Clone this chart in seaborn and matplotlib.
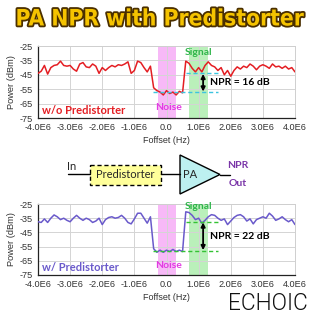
import numpy as np
import pandas as pd
import matplotlib
matplotlib.use("Agg")
import matplotlib.pyplot as plt
import seaborn as sns
from matplotlib import patheffects as pe
from matplotlib.patches import Rectangle, Polygon

# ---------------- data ----------------
freq_hz = np.round(np.arange(-40, 41) / 10, 1) * 1e6   # frequency grid, 0.1 MHz steps

power_without_pd = [
    -44, -42.5, -38.5, -44.5, -40, -38.5, -38, -35.5, -38.5, -39,
    -38.5, -41, -42.5, -37.5, -36.5, -39.5, -40, -37.5, -39, -44,
    -40, -42, -40, -38.5, -39.5, -38, -38.5, -37.5, -36, -44,
    -42, -35.5, -36.5, -40, -43, -39, -54, -56, -57, -59,
    -56, -58, -57, -59, -56.5, -57.5, -35.5, -37, -40.5, -43,
    -40, -43, -38.5, -36, -38.5, -39.5, -42, -40, -45, -42,
    -46, -42, -39.5, -41, -39, -40, -37.5, -39, -41.5, -39,
    -38, -39, -40.5, -37.5, -39.5, -39, -40.5, -39, -41, -40,
    -43,
]
power_with_pd = [
    -37.5, -38, -35.5, -38, -35, -32.7, -34, -36, -35, -36.5,
    -37.5, -35, -33, -35, -36.5, -35, -36, -38, -37, -35,
    -39.5, -36, -34.5, -34, -35, -34.5, -33, -35, -38, -39,
    -35.5, -31.5, -31.5, -35, -38.5, -34, -56.5, -59, -57.5, -59,
    -57.5, -58.5, -57, -58.5, -57.5, -58.5, -30.5, -31, -33, -36,
    -35, -38.5, -36.5, -34, -32.5, -33, -35, -36.5, -35.5, -39.5,
    -37, -34.5, -33, -32.5, -34, -37, -35.5, -39, -36, -35,
    -34, -35, -31.5, -33.5, -36.5, -35.5, -34, -36, -37.5, -36,
    -39.5,
]

x_ticks = [-4e6, -3e6, -2e6, -1e6, 0, 1e6, 2e6, 3e6, 4e6]
x_tick_labels = ["-4.0E6", "-3.0E6", "-2.0E6", "-1.0E6", "0.0",
                 "1.0E6", "2.0E6", "3.0E6", "4.0E6"]
y_ticks = [-75, -65, -55, -45, -35, -25]

npr_levels_top = (-44.0, -57.0)      # signal level, noise level (w/o PD)
npr_levels_bottom = (-37.6, -57.9)   # signal level, noise level (w/ PD)
npr_texts = ["NPR = 16 dB", "NPR = 22 dB"]
panel_labels = ["w/o Predistorter", "w/ Predistorter"]

# ---------------- figure ----------------
sns.set_style("white")
plt.rcParams["font.family"] = ["Liberation Sans", "DejaVu Sans"]

fig = plt.figure(figsize=(3.2, 3.2), dpi=100)
fig.patch.set_facecolor("white")

overlay = fig.add_axes([0, 0, 1, 1], zorder=0)
overlay.set_xlim(0, 320)
overlay.set_ylim(320, 0)
overlay.axis("off")

ax_top = fig.add_axes([38/320, 1-118/320, 257/320, 72/320], zorder=2)
ax_bot = fig.add_axes([38/320, 1-275/320, 257/320, 71/320], zorder=2)

GREEN_TXT = "#2fb54a"
MAGENTA = "#e23be2"
TEXTFONT = ["Lato", "DejaVu Sans"]


def panel(ax, power, color, dash_color, levels, npr_text, label_text,
          signal_y, noise_y):
    ax.axvspan(-0.25e6, 0.3e6, color="#f7b9f7", zorder=0, lw=0)
    ax.axvspan(0.7e6, 1.28e6, color="#baf0ba", zorder=0, lw=0)
    df = pd.DataFrame({"freq": freq_hz, "power": power})
    sns.lineplot(data=df, x="freq", y="power", ax=ax, color=color, lw=1.1,
                 zorder=3)
    up, lo = levels
    ax.hlines(up, 0.6e6, 1.6e6, colors=dash_color, linestyles=(0, (3, 2)),
              lw=1.0, zorder=4)
    ax.hlines(lo, -0.42e6, 1.6e6, colors=dash_color, linestyles=(0, (3, 2)),
              lw=1.0, zorder=4)
    ax.annotate("", xy=(1.14e6, up - 0.4), xytext=(1.14e6, lo + 0.4),
                arrowprops=dict(arrowstyle="<|-|>", color="black", lw=1.3,
                                mutation_scale=6, shrinkA=0, shrinkB=0),
                zorder=5)
    ax.text(1.35e6, (up + lo) / 2, npr_text, fontsize=7.5, fontweight="bold",
            family=TEXTFONT, va="center", ha="left", color="black", zorder=6)
    ax.text(1.0e6, signal_y, "Signal", fontsize=7.5, fontweight="bold",
            family=TEXTFONT, color=GREEN_TXT, ha="center", va="center",
            zorder=6)
    ax.text(0.05e6, noise_y, "Noise", fontsize=7.5, fontweight="bold",
            family=TEXTFONT, color=MAGENTA, ha="center", va="center", zorder=6)
    ax.text(-3.88e6, -69.5, label_text, fontsize=8, fontweight="bold",
            family=TEXTFONT, color=color, ha="left", va="center", zorder=6)

    ax.set_xlim(-4e6, 4e6)
    ax.set_ylim(-75, -25)
    ax.set_xticks(x_ticks)
    ax.set_xticklabels(x_tick_labels)
    ax.set_xticks([t * 1e5 for t in range(-40, 41, 2)], minor=True)
    ax.set_yticks(y_ticks)
    ax.set_yticklabels([str(v) for v in y_ticks])
    ax.grid(True, which="major", color="#d4d4d4", lw=0.7)
    ax.tick_params(axis="x", which="major", direction="inout", length=4,
                   width=0.8, labelsize=6.6, pad=1.5, colors="#222222",
                   labelcolor="#333333")
    ax.tick_params(axis="x", which="minor", direction="in", length=2.5,
                   width=0.7, colors="#222222")
    ax.tick_params(axis="y", which="major", direction="out", length=3,
                   width=0.8, labelsize=6.6, pad=1, colors="#222222",
                   labelcolor="#333333")
    ax.set_xlabel("Foffset (Hz)", fontsize=6.5, color="#333333", labelpad=3)
    ax.set_ylabel("Power (dBm)", fontsize=6.7, color="#333333", labelpad=2)
    for s in ["left", "bottom"]:
        ax.spines[s].set_color("#222222")
        ax.spines[s].set_linewidth(0.9)
    for s in ["top", "right"]:
        ax.spines[s].set_color("#cfcfcf")
        ax.spines[s].set_linewidth(0.7)
    ax.set_facecolor("white")


panel(ax_top, power_without_pd, "#e41e23", "#3cc4e0", npr_levels_top,
      npr_texts[0], panel_labels[0], -29.6, -67.8)
panel(ax_bot, power_with_pd, "#6a5acb", "#34c234", npr_levels_bottom,
      npr_texts[1], panel_labels[1], -27.0, -68.0)


def fit_width(txt, target_px):
    renderer = fig.canvas.get_renderer()
    w = txt.get_window_extent(renderer=renderer).width
    txt.set_fontsize(txt.get_fontsize() * target_px / w)


# ---------------- title ----------------
title = fig.text(0.5, 1 - 19/320, "PA NPR with Predistorter", ha="center",
                 va="center", fontsize=19, fontweight="heavy",
                 color="#f5c300", fontstretch="condensed",
                 family=["DejaVu Sans", "Liberation Sans"],
                 path_effects=[pe.withStroke(linewidth=2.6,
                                             foreground="#4a2f00")])
fit_width(title, 288)

# ---------------- block diagram ----------------
overlay.plot([68, 90], [174, 174], color="black", lw=1.0)
overlay.text(72, 166, "In", fontsize=8, family=TEXTFONT, ha="center",
             va="center")
overlay.add_patch(Rectangle((90, 165), 71, 19.5, facecolor="#ffff9a",
                            edgecolor="black", lw=1.0, linestyle=(0, (3, 2))))
overlay.text(125.5, 175, "Predistorter", fontsize=8, family=TEXTFONT,
             ha="center", va="center")
overlay.plot([161, 180], [174, 174], color="black", lw=1.0)
overlay.add_patch(Polygon([[180, 155], [180, 194], [220, 174.5]],
                          closed=True, facecolor="#bdf0f0", edgecolor="black",
                          lw=1.0))
overlay.text(190, 175, "PA", fontsize=8, family=TEXTFONT, ha="center",
             va="center")
overlay.plot([220, 230], [174.5, 174.5], color="black", lw=1.0)
overlay.text(238, 166, "NPR", fontsize=7.5, fontweight="bold",
             family=TEXTFONT, color="#7a35a8", ha="center", va="center")
overlay.text(238, 183, "Out", fontsize=7.5, fontweight="bold",
             family=TEXTFONT, color="#7a35a8", ha="center", va="center")

# ---------------- logo ----------------
logo = fig.text(268/320, 1 - 303/320, "ECHOIC", ha="center", va="center",
                fontsize=16, fontweight=300,
                family=["Roboto", "Lato", "DejaVu Sans"], color="#111111")
fit_width(logo, 80)

fig.savefig("out.png", dpi=100)
